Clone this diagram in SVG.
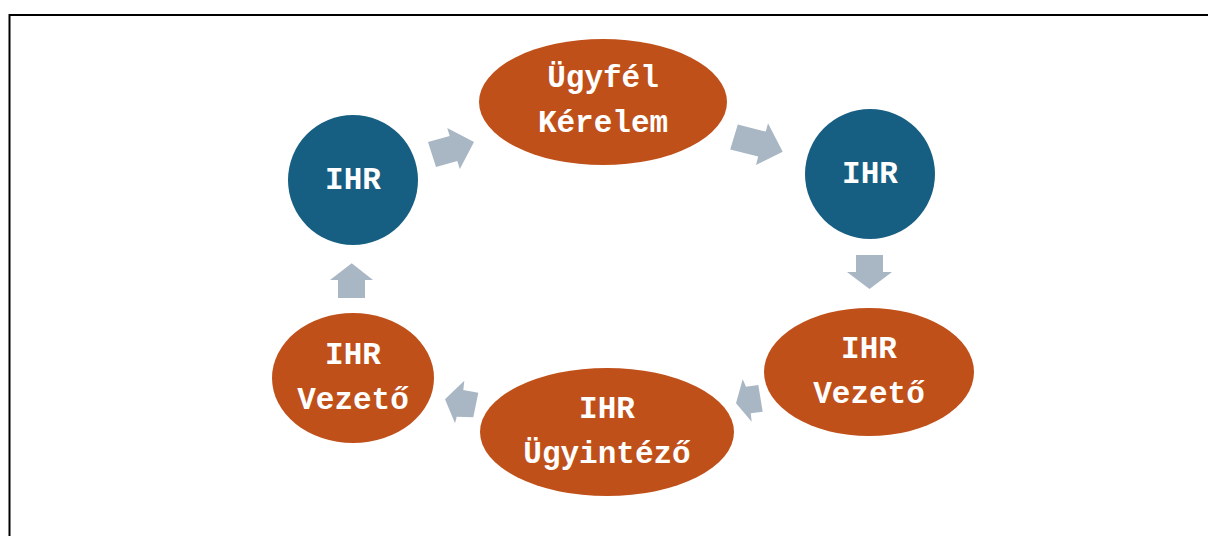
<svg xmlns="http://www.w3.org/2000/svg" width="1208" height="536" viewBox="0 0 1208 536">
  <style>
    .org { fill: #C0501A; }
    .blu { fill: #175F82; }
    .arr { fill: #A9B6C4; }
    .lbl { font-family: "Liberation Mono", "Courier New", monospace; font-weight: bold; font-size: 31px; fill: #FFFFFF; text-anchor: middle; }
  </style>
  <rect width="1208" height="536" fill="#FFFFFF"/>
  <!-- page frame (top and left edges) -->
  <path d="M9.5,536 V15 H1208" fill="none" stroke="#000000" stroke-width="2"/>

  <g id="connectors">
    <polygon class="arr" points="428,142 449.7,136.1 447.2,128 474,142 459.8,169 457.3,160.9 436,167"/>
    <polygon class="arr" points="737.8,124.6 765.8,131.6 768,123.3 782.7,151.7 756,165 758.2,156.4 730.2,149.4"/>
    <polygon class="arr" points="856,255 883,255 883,272 892,272 869.5,289 847,272 856,272"/>
    <polygon class="arr" points="758.3,385 762.7,411.7 750.7,413.3 751.7,421.7 736,403.3 742.7,379.3 746,386.7"/>
    <polygon class="arr" points="478.3,392.7 463.3,390 464.3,380.7 445,399.3 455,423.3 456.7,416.7 473.3,417.3"/>
    <polygon class="arr" points="338,298 365,298 365,280 373,280 351.7,263.3 330,280 338,280"/>
  </g>

  <g id="node-ihr-1">
    <circle class="blu" cx="353" cy="180" r="65"/>
    <text class="lbl" x="353" y="189">IHR</text>
  </g>
  <g id="node-ugyfel-kerelem">
    <ellipse class="org" cx="603" cy="102" rx="124" ry="63"/>
    <text class="lbl" x="603" y="87">Ügyfél</text>
    <text class="lbl" x="603" y="132">Kérelem</text>
  </g>
  <g id="node-ihr-2">
    <circle class="blu" cx="870" cy="174" r="65"/>
    <text class="lbl" x="870" y="183">IHR</text>
  </g>
  <g id="node-ihr-vezeto-1">
    <ellipse class="org" cx="869" cy="372" rx="105" ry="64"/>
    <text class="lbl" x="869" y="358">IHR</text>
    <text class="lbl" x="869" y="403">Vezető</text>
  </g>
  <g id="node-ihr-ugyintezo">
    <ellipse class="org" cx="607" cy="432" rx="127" ry="64"/>
    <text class="lbl" x="607" y="418">IHR</text>
    <text class="lbl" x="607" y="463">Ügyintéző</text>
  </g>
  <g id="node-ihr-vezeto-2">
    <ellipse class="org" cx="353" cy="378" rx="81" ry="65"/>
    <text class="lbl" x="353" y="364">IHR</text>
    <text class="lbl" x="353" y="409">Vezető</text>
  </g>
</svg>
